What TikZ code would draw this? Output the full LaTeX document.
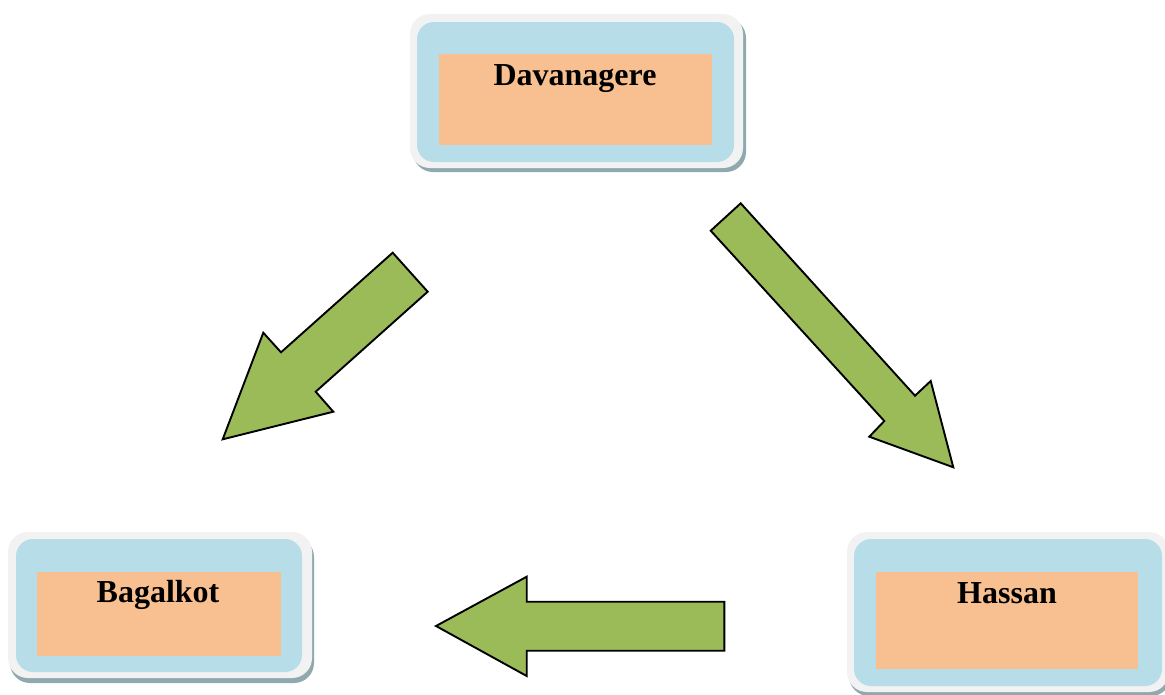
\documentclass[tikz,border=0pt]{standalone}
\usepackage{fontspec}
\setmainfont{Liberation Serif}
\definecolor{outergray}{HTML}{F2F2F2}
\definecolor{innerblue}{HTML}{B7DDE8}
\definecolor{boxorange}{HTML}{F8C090}
\definecolor{shadowc}{HTML}{8FA9AF}
\definecolor{arrowgreen}{HTML}{9BBB59}
\tikzset{
  shadowbox/.style={fill=shadowc, rounded corners=20pt, inner sep=0, outer sep=0},
  outerbox/.style={fill=outergray, rounded corners=20pt, inner sep=0, outer sep=0},
  bluebox/.style={fill=innerblue, rounded corners=17pt, inner sep=0, outer sep=0},
  orangebox/.style={fill=boxorange, inner sep=0, outer sep=0},
  label/.style={font=\fontsize{32}{38}\selectfont\bfseries, anchor=base, inner sep=0},
  blockarrow/.style={fill=arrowgreen, draw=black, line width=1.9pt, line join=miter},
}
\begin{document}
\begin{tikzpicture}[x=1pt,y=-1pt]
\useasboundingbox (0,0) rectangle (1165,694);
\clip (0,0) rectangle (1165,694);
% Davanagere
\node[shadowbox, minimum width=333pt, minimum height=154pt] (davS) at (579.5,95) {};
\node[outerbox, minimum width=333pt, minimum height=154pt] (davO) at (576.5,91) {};
\node[bluebox, minimum width=317pt, minimum height=140pt] (davB) at (575.5,92) {};
\node[orangebox, minimum width=273pt, minimum height=91pt] (davR) at (575.5,99.5) {};
\node[label] (dav) at (575,85) {Davanagere};
% Bagalkot
\node[shadowbox, minimum width=304pt, minimum height=146pt] (bagS) at (162,610) {};
\node[outerbox, minimum width=304pt, minimum height=146pt] (bagO) at (160,605) {};
\node[bluebox, minimum width=286pt, minimum height=133pt] (bagB) at (159,605.5) {};
\node[orangebox, minimum width=244pt, minimum height=84pt] (bagR) at (159,614) {};
\node[label] (bag) at (158,602) {Bagalkot};
% Hassan
\node[shadowbox, minimum width=322pt, minimum height=160pt] (hasS) at (1010,616) {};
\node[outerbox, minimum width=322pt, minimum height=160pt] (hasO) at (1008,612) {};
\node[bluebox, minimum width=308pt, minimum height=147pt] (hasB) at (1008,612.5) {};
\node[orangebox, minimum width=262pt, minimum height=97pt] (hasR) at (1007,620.5) {};
\node[label] (has) at (1007,603) {Hassan};
% Arrow Davanagere -> Bagalkot
\draw[blockarrow] (392.7,252.7) -- (427.7,291.7) -- (315.7,391.7) -- (333.3,411.7)
  -- (222.7,439.3) -- (263.3,332.7) -- (281,352.3) -- cycle;
% Arrow Davanagere -> Hassan
\draw[blockarrow] (740.7,203.3) -- (915,395.7) -- (930.7,381) -- (953.3,467.3)
  -- (869.3,436.7) -- (884.3,421) -- (710.7,230.7) -- cycle;
% Arrow Hassan -> Bagalkot
\draw[blockarrow] (724.3,601.7) -- (724.3,650.7) -- (526.7,650.7) -- (526.7,676)
  -- (436,626) -- (526.7,576.7) -- (526.7,601.7) -- cycle;
\end{tikzpicture}
\end{document}
